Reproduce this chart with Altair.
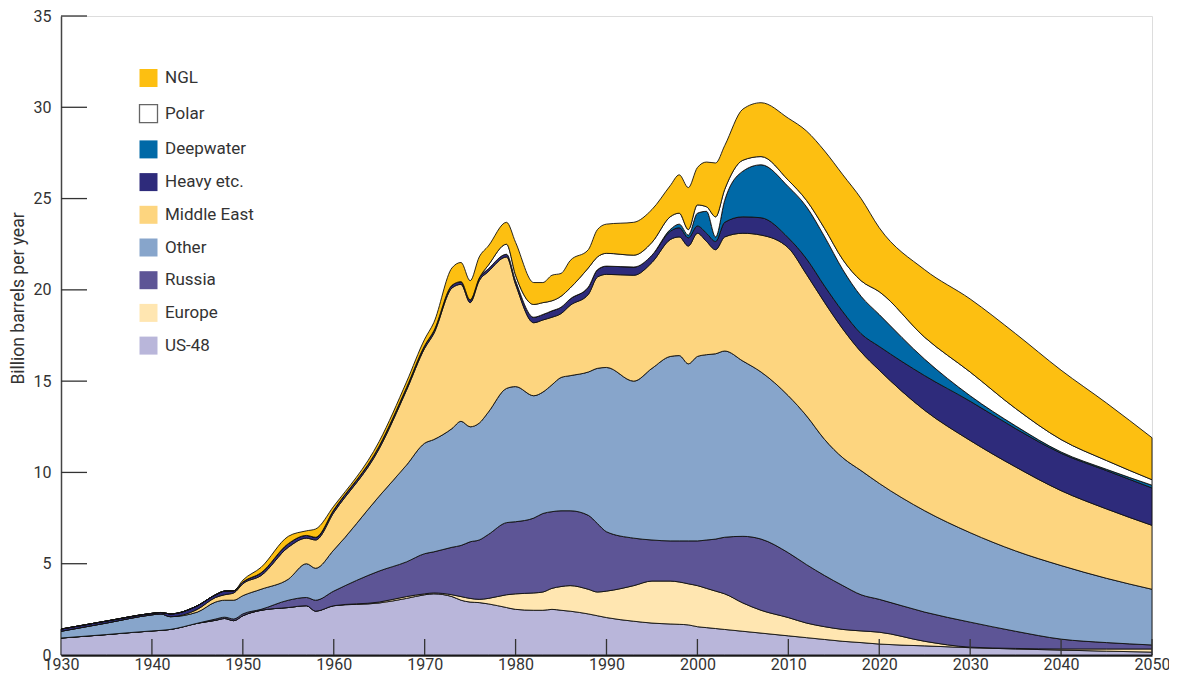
import altair as alt
import pandas as pd

years = [1930, 1935, 1940, 1941, 1942, 1945, 1947, 1948, 1949, 1950,
         1952, 1955, 1957, 1958, 1960, 1965, 1968, 1970, 1971, 1973,
         1974, 1975, 1976, 1977, 1979, 1980, 1982, 1983, 1984, 1985,
         1986, 1988, 1989, 1990, 1993, 1995, 1997, 1998, 1999, 2000,
         2001, 2002, 2003, 2005, 2007, 2010, 2012, 2014, 2016, 2018,
         2020, 2025, 2030, 2035, 2040, 2045, 2050]

# cumulative upper boundary of each layer (billion barrels per year)
top_us48 = [0.93, 1.12, 1.32, 1.35, 1.4, 1.74, 1.9, 2.0, 1.88, 2.15,
            2.45, 2.6, 2.7, 2.4, 2.7, 2.85, 3.1, 3.3, 3.35, 3.2,
            3.0, 2.9, 2.87, 2.8, 2.6, 2.5, 2.45, 2.45, 2.5, 2.45,
            2.4, 2.25, 2.15, 2.05, 1.85, 1.75, 1.7, 1.68, 1.65, 1.55,
            1.5, 1.45, 1.4, 1.3, 1.2, 1.05, 0.95, 0.85, 0.75, 0.68,
            0.6, 0.5, 0.4, 0.33, 0.27, 0.21, 0.16]
top_europe = [0.93, 1.12, 1.32, 1.35, 1.4, 1.74, 1.9, 2.0, 1.88, 2.15,
              2.45, 2.6, 2.7, 2.4, 2.7, 2.9, 3.2, 3.35, 3.4, 3.3,
              3.2, 3.1, 3.05, 3.1, 3.3, 3.35, 3.4, 3.45, 3.65, 3.75,
              3.8, 3.6, 3.45, 3.5, 3.8, 4.05, 4.05, 4.0, 3.9, 3.8,
              3.65, 3.5, 3.35, 2.85, 2.45, 2.05, 1.75, 1.55, 1.4, 1.32,
              1.25, 0.75, 0.43, 0.36, 0.33, 0.33, 0.33]
top_russia = [0.93, 1.12, 1.32, 1.35, 1.4, 1.74, 1.97, 2.07, 1.97, 2.25,
              2.5, 3.0, 3.15, 3.0, 3.5, 4.6, 5.1, 5.55, 5.65, 5.9,
              6.0, 6.2, 6.3, 6.6, 7.25, 7.3, 7.5, 7.75, 7.85, 7.9,
              7.9, 7.65, 7.2, 6.75, 6.4, 6.3, 6.25, 6.25, 6.25, 6.25,
              6.3, 6.35, 6.45, 6.5, 6.35, 5.6, 4.95, 4.35, 3.8, 3.3,
              3.05, 2.35, 1.8, 1.3, 0.87, 0.68, 0.55]
top_other = [1.3, 1.75, 2.2, 2.25, 2.1, 2.35, 2.9, 3.0, 3.0, 3.25,
             3.6, 4.15, 5.0, 4.75, 5.75, 8.7, 10.4, 11.6, 11.8, 12.4,
             12.8, 12.5, 12.7, 13.3, 14.6, 14.7, 14.2, 14.4, 14.8, 15.2,
             15.3, 15.5, 15.7, 15.75, 15.0, 15.7, 16.35, 16.4, 15.95, 16.35,
             16.45, 16.5, 16.65, 16.1, 15.5, 14.2, 13.1, 11.8, 10.8, 10.1,
             9.4, 7.9, 6.7, 5.7, 4.9, 4.2, 3.6]
top_middle_east = [1.3, 1.75, 2.2, 2.25, 2.1, 2.5, 3.15, 3.3, 3.4, 3.9,
                   4.35, 5.9, 6.4, 6.3, 7.8, 11.3, 14.5, 16.8, 17.6, 20.1,
                   20.3, 19.3, 20.5, 21.0, 21.8, 20.3, 18.2, 18.35, 18.5, 18.7,
                   19.15, 19.75, 20.7, 20.85, 20.8, 21.5, 22.75, 22.9, 22.4, 23.1,
                   22.65, 22.2, 22.9, 23.1, 23.0, 22.3, 20.85, 19.3, 17.85, 16.6,
                   15.6, 13.4, 11.75, 10.3, 9.0, 8.0, 7.1]
top_heavy = [1.42, 1.86, 2.28, 2.33, 2.25, 2.7, 3.3, 3.5, 3.52, 4.0,
             4.5, 6.1, 6.55, 6.45, 7.95, 11.45, 14.65, 16.95, 17.75, 20.25,
             20.45, 19.45, 20.65, 21.15, 21.95, 20.5, 18.5, 18.65, 18.85, 19.05,
             19.5, 20.15, 21.1, 21.3, 21.25, 21.9, 23.2, 23.4, 22.85, 23.5,
             23.1, 22.65, 23.7, 24.0, 23.95, 22.85, 21.7, 20.2, 18.8, 17.6,
             16.9, 15.3, 13.9, 12.4, 11.05, 10.1, 9.15]
top_deepwater = [1.42, 1.86, 2.28, 2.33, 2.25, 2.7, 3.3, 3.5, 3.52, 4.0,
                 4.5, 6.1, 6.55, 6.45, 7.95, 11.45, 14.65, 16.95, 17.75, 20.25,
                 20.45, 19.45, 20.65, 21.15, 21.95, 20.5, 18.5, 18.65, 18.85, 19.05,
                 19.5, 20.15, 21.1, 21.3, 21.25, 21.9, 23.3, 23.6, 23.0, 24.2,
                 24.3, 22.9, 24.9, 26.5, 26.85, 25.65, 24.55, 22.9, 21.1, 19.65,
                 18.65, 16.2, 14.2, 12.55, 11.12, 10.17, 9.3]
top_polar = [1.42, 1.86, 2.28, 2.33, 2.25, 2.7, 3.3, 3.5, 3.52, 4.0,
             4.5, 6.1, 6.55, 6.45, 7.95, 11.45, 14.65, 16.95, 17.75, 20.25,
             20.45, 19.45, 20.65, 21.35, 22.5, 20.8, 19.2, 19.3, 19.4, 19.65,
             20.1, 21.2, 21.8, 22.0, 21.9, 22.6, 24.0, 24.2, 23.3, 24.65,
             24.55, 24.0, 25.5, 27.1, 27.3, 26.0, 24.9, 23.35, 21.65, 20.5,
             19.9, 17.4, 15.5, 13.5, 11.8, 10.65, 9.6]
top_ngl = [1.42, 1.86, 2.28, 2.33, 2.25, 2.7, 3.3, 3.5, 3.52, 4.1,
           4.8, 6.5, 6.8, 6.9, 8.15, 11.7, 14.95, 17.3, 18.2, 21.2,
           21.5, 20.5, 21.8, 22.4, 23.7, 22.6, 20.4, 20.4, 20.8, 20.9,
           21.6, 22.2, 23.3, 23.6, 23.7, 24.4, 25.7, 26.3, 25.6, 26.7,
           27.0, 26.95, 27.9, 29.9, 30.25, 29.4, 28.7, 27.6, 26.3, 25.0,
           23.4, 21.1, 19.5, 17.6, 15.6, 13.8, 11.9]

series_names = ["US-48", "Europe", "Russia", "Other", "Middle East",
                "Heavy etc.", "Deepwater", "Polar", "NGL"]
series_tops = [top_us48, top_europe, top_russia, top_other, top_middle_east,
               top_heavy, top_deepwater, top_polar, top_ngl]
series_colors = ["#B9B6DA", "#FFE6B1", "#5D5596", "#87A5CB", "#FDD57F",
                 "#2E2B7B", "#0069A7", "#FFFFFF", "#FDBF11"]

legend_order = ["NGL", "Polar", "Deepwater", "Heavy etc.", "Middle East",
                "Other", "Russia", "Europe", "US-48"]

y_tick_values = [5, 10, 15, 20, 25, 30, 35]
x_tick_values = [1940, 1950, 1960, 1970, 1980, 1990, 2000, 2010, 2020, 2030, 2040, 2050]
x_label_values = [1930] + x_tick_values

rows = []
for i, name in enumerate(series_names):
    hi = series_tops[i]
    lo = series_tops[i - 1] if i > 0 else [0.0] * len(years)
    for yr, l, h in zip(years, lo, hi):
        rows.append({"year": yr, "series": name, "lo": l, "hi": h, "rank": i})
df = pd.DataFrame(rows)

color_map = dict(zip(series_names, series_colors))
color_scale = alt.Scale(domain=legend_order,
                        range=[color_map[s] for s in legend_order])

FONT = "Roboto"
TXT = "#333333"
W, H = 1091, 639

x_scale = alt.Scale(domain=[1930, 2050], nice=False, zero=False)
y_scale = alt.Scale(domain=[0, 35], nice=False)

areas = alt.Chart(df).mark_area(
    stroke="#111111", strokeWidth=0.9, interpolate="monotone", opacity=1
).encode(
    x=alt.X("year:Q", scale=x_scale,
            axis=alt.Axis(values=x_label_values, format="d", title=None,
                          ticks=False, grid=False, domainColor="#222222",
                          domainWidth=2.5, labelFont=FONT, labelFontSize=16,
                          labelColor=TXT, labelPadding=1, labelFlush=False)),
    y=alt.Y("hi:Q", scale=y_scale,
            axis=alt.Axis(values=[0] + y_tick_values, title="Billion barrels per year",
                          ticks=False, grid=False, domainColor="#444444",
                          domainWidth=1.5, labelFont=FONT, labelFontSize=16,
                          labelColor=TXT, labelPadding=10, titleFont=FONT,
                          titleFontSize=17.5, titleFontWeight="normal",
                          titleColor=TXT, titleX=-34, titleY=282)),
    y2="lo:Q",
    color=alt.Color("series:N", scale=color_scale,
                    legend=alt.Legend(orient="none", legendX=79, legendY=53.5,
                                      title=None, symbolType="square",
                                      symbolSize=324, labelFont=FONT,
                                      labelFontSize=17, labelColor=TXT,
                                      rowPadding=13.7, labelOffset=8,
                                      padding=0, symbolOpacity=1,
                                      symbolStrokeColor="#666666",
                                      symbolStrokeWidth={"expr": "datum.label == 'Polar' ? 1.3 : 0"})),
    order=alt.Order("rank:Q"),
)

ytick_df = pd.DataFrame({"v": y_tick_values})
yticks = alt.Chart(ytick_df).mark_rule(color="#333333", strokeWidth=1.3).encode(
    y=alt.Y("v:Q", scale=y_scale),
    x=alt.value(0), x2=alt.value(26),
)

xtick_df = pd.DataFrame({"v": x_tick_values})
xticks = alt.Chart(xtick_df).mark_rule(color="#333333", strokeWidth=1.3).encode(
    x=alt.X("v:Q", scale=x_scale),
    y=alt.value(H - 16), y2=alt.value(H),
)

chart = alt.layer(areas, xticks, yticks).properties(
    width=W, height=H,
    autosize=alt.AutoSizeParams(type="none"),
    padding={"left": 53, "top": 8, "right": 17, "bottom": 18},
).configure_view(stroke=None).configure(background="white")

chart.save("out.html", embed_options={"renderer": "svg", "actions": False})
